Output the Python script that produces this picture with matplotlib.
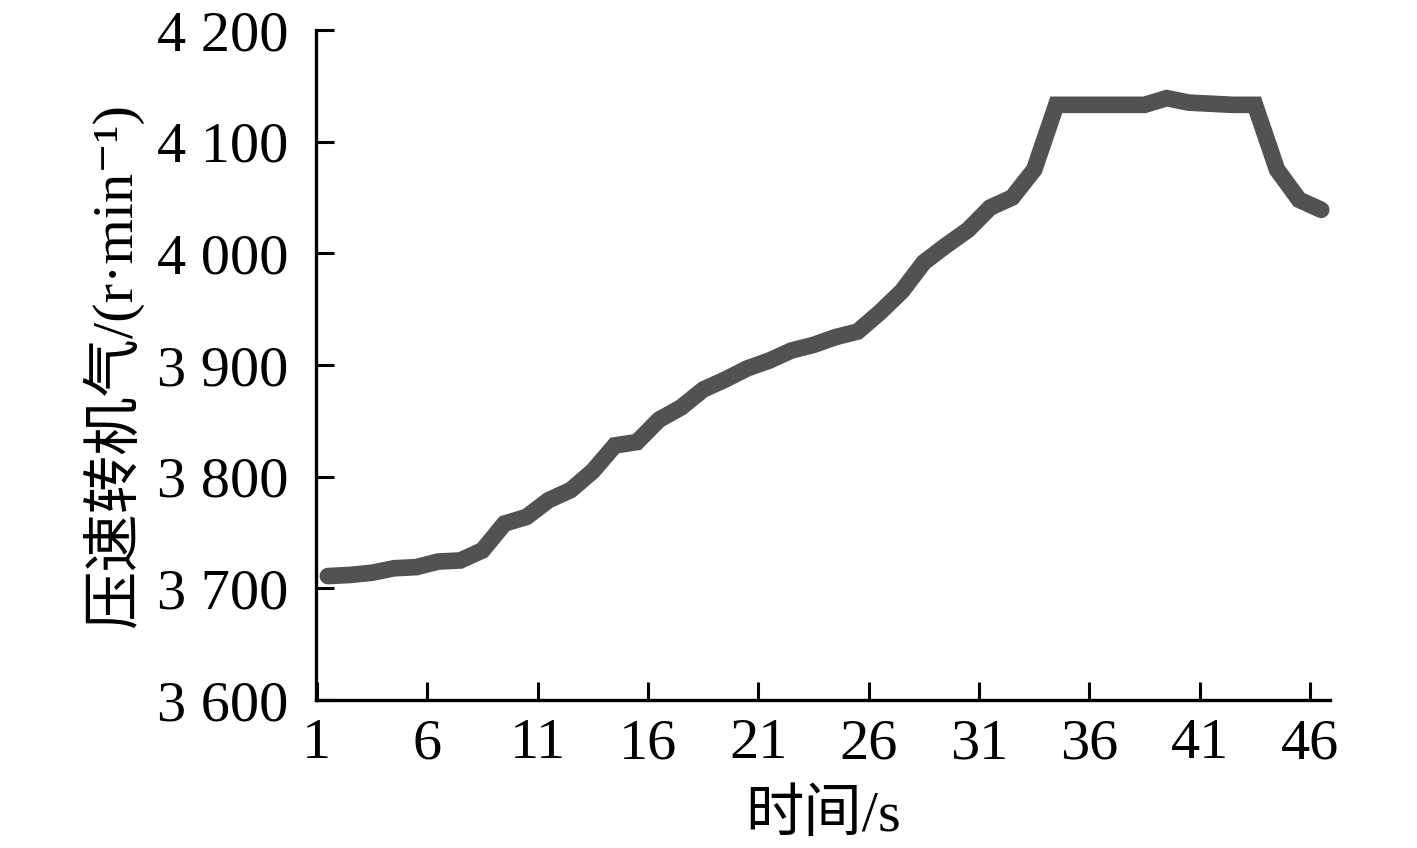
import numpy as np
import matplotlib
matplotlib.use('Agg')
import matplotlib.pyplot as plt

# compressor speed over time
time_s = np.arange(1, 47)
speed = [3711, 3712, 3714, 3718, 3719, 3724, 3725, 3734, 3758, 3764,
         3779, 3788, 3805, 3828, 3831, 3851, 3862, 3878, 3887, 3897,
         3904, 3913, 3918, 3925, 3930, 3947, 3966, 3992, 4007, 4021,
         4041, 4050, 4075, 4133, 4133, 4133, 4133, 4133, 4139, 4135,
         4134, 4133, 4133, 4075, 4048, 4039]

xtick_labels = [str(v) for v in range(1, 47, 5)]
yticks = [3600, 3700, 3800, 3900, 4000, 4100, 4200]
ytick_labels = ['3 600', '3 700', '3 800', '3 900', '4 000', '4 100', '4 200']

fonts = ['Liberation Serif', 'Noto Sans CJK SC', 'DejaVu Serif']
plt.rcParams['font.family'] = fonts

fig = plt.figure(figsize=(14.17, 8.48), dpi=100)
ax = fig.add_axes([0.223, 0.1745, 0.7156, 0.7901])

ax.plot(time_s, speed, color='#525252', lw=12, solid_capstyle='round',
        solid_joinstyle='miter')

ax.set_xlim(0.46, 46.4)
ax.set_ylim(3600, 4200)
ax.set_xticks(np.arange(0.5, 46, 5))
ax.set_xticklabels(xtick_labels)
ax.set_yticks(yticks)
ax.set_yticklabels(ytick_labels)

for s in ['top', 'right']:
    ax.spines[s].set_visible(False)
for s in ['left', 'bottom']:
    ax.spines[s].set_linewidth(2.4)
    ax.spines[s].set_color('black')

ax.tick_params(axis='both', direction='in', length=13, width=2.2,
               labelsize=42, colors='black')
ax.tick_params(axis='x', pad=13)
ax.tick_params(axis='y', pad=20)

ax.set_xlabel('时间/s', fontsize=42, labelpad=14)
ax.set_ylabel('压速转机气/(r·min⁻¹)', fontsize=42, labelpad=10)

fig.savefig('out.png', dpi=100)
